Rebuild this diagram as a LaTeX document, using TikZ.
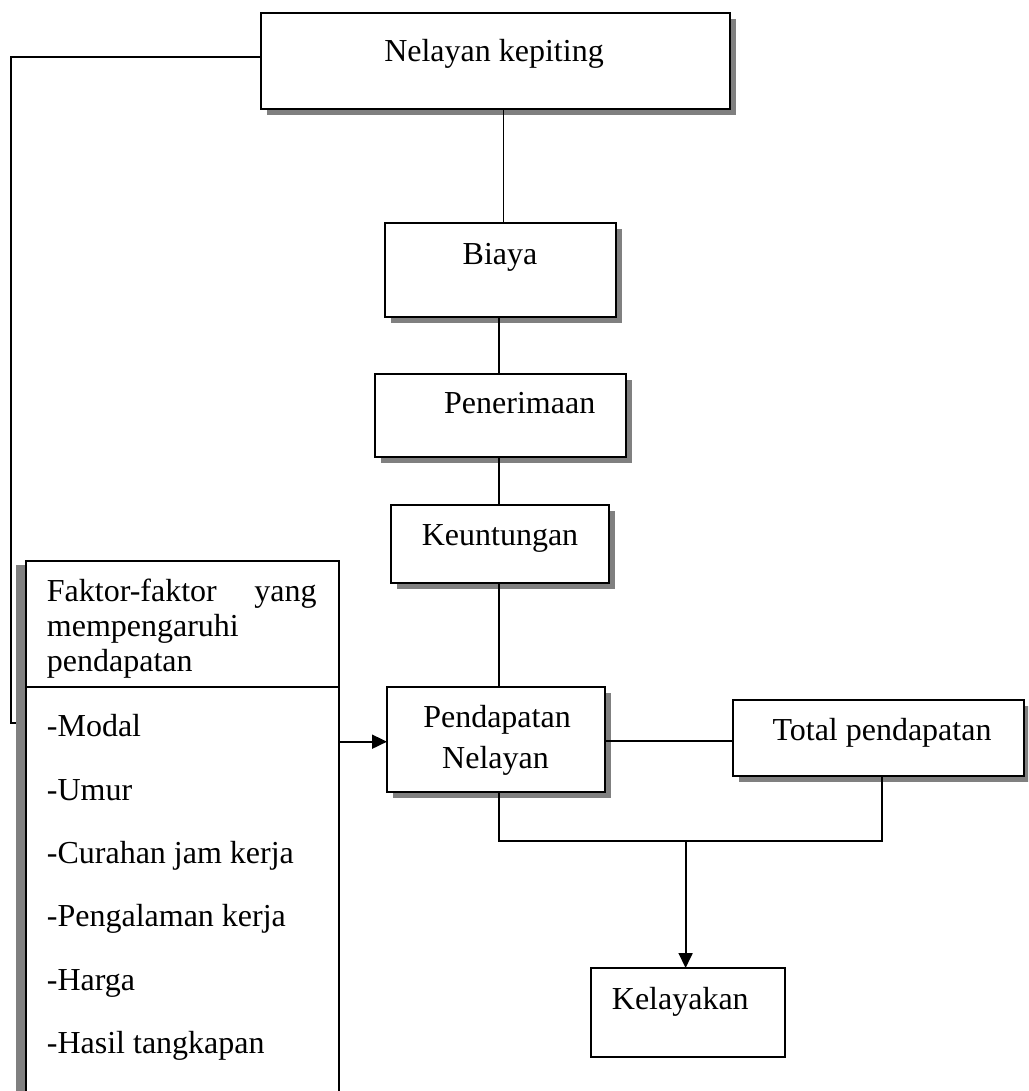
\documentclass[tikz,border=0pt]{standalone}
\usepackage{fontspec}
\setmainfont{Liberation Serif}
\usetikzlibrary{shadows,arrows.meta}
\begin{document}
\begin{tikzpicture}[x=1pt,y=-1pt,
  box/.style={draw, line width=1.8pt, fill=white, inner sep=0pt, outer sep=0pt},
  shbox/.style={box, drop shadow={shadow xshift=6pt, shadow yshift=-6pt, fill=black!50, opacity=1}},
  lbl/.style={inner sep=0pt, anchor=base, font=\fontsize{32}{38}\selectfont},
  lblw/.style={lbl, anchor=base west},
  conn/.style={line width=1.8pt},
  arr/.style={conn, -{Triangle[length=15pt,width=14pt]}}
]
\useasboundingbox (0,0) rectangle (1028,1091);
\clip (0,0) rectangle (1028,1091);

% boxes
\node[shbox, minimum width=469pt, minimum height=96pt] (nk) at (495.5,61) {};
\node[shbox, minimum width=231pt, minimum height=94pt] (biaya) at (500.5,270) {};
\node[shbox, minimum width=251pt, minimum height=83pt] (pen) at (500.5,415.5) {};
\node[shbox, minimum width=218pt, minimum height=78pt] (keu) at (500,544) {};
\node[shbox, minimum width=218pt, minimum height=105pt] (pn) at (496,739.5) {};
\node[shbox, minimum width=291pt, minimum height=76pt] (tp) at (878.5,738) {};
\node[box, minimum width=194pt, minimum height=89pt] (kel) at (688,1012.5) {};

% faktor box with left shadow
\node[fill=black!50, inner sep=0pt, minimum width=10pt, minimum height=560pt] (fsh) at (21,845) {};
\node[box, minimum width=313pt, minimum height=570pt] (fak) at (182.5,846) {};
\coordinate (dvl) at (26,686.7);
\draw[conn] (dvl) -- (dvl -| fak.east);

% texts
\node[lbl] (t1) at (494,62) {Nelayan kepiting};
\node[lbl] (t2) at (500,264) {Biaya};
\node[lblw] (t3) at (444,413) {Penerimaan};
\node[lbl] (t4) at (500,545) {Keuntungan};
\node[lbl] (t5) at (497,727) {Pendapatan};
\node[lbl] (t6) at (495.5,768) {Nelayan};
\node[lbl] (t7) at (882,740) {Total pendapatan};
\node[lblw] (t8) at (611.7,1009) {Kelayakan};

\node[lblw] (f1) at (46.7,601.7) {Faktor-faktor};
\node[lbl, anchor=base east] (f2) at (316.7,601.7) {yang};
\node[lblw] (f3) at (46.7,636.7) {mempengaruhi};
\node[lblw] (f4) at (46.7,671.7) {pendapatan};

\node[lblw] (i1) at (46.7,736.7) {-Modal};
\node[lblw] (i2) at (46.7,800) {-Umur};
\node[lblw] (i3) at (46.7,863.3) {-Curahan jam kerja};
\node[lblw] (i4) at (46.7,926.7) {-Pengalaman kerja};
\node[lblw] (i5) at (46.7,990) {-Harga};
\node[lblw] (i6) at (46.7,1053.3) {-Hasil tangkapan};

% connectors
\coordinate (lc) at (11,723);
\draw[conn] ([yshift=4pt]nk.west) -| (lc) -- (lc -| fsh.west);
\draw[conn] (nk.south -| 503.5,0) -- (biaya.north -| 503.5,0);
\draw[conn] (biaya.south -| 499,0) -- (pen.north -| 499,0);
\draw[conn] (pen.south -| 499,0) -- (keu.north -| 499,0);
\draw[conn] (keu.south -| 499,0) -- (pn.north -| 499,0);
\draw[conn] ([yshift=-1.5pt]pn.east) -- ([yshift=-1.5pt]pn.east -| tp.west);
\draw[arr] (fak.east |- 0,741.7) -- (pn.west |- 0,741.7);
\coordinate (jn) at (685.6,841);
\draw[conn] (pn.south -| 499,0) |- (jn) -| (tp.south -| 882,0);
\draw[arr] (jn) -- (jn |- kel.north);
\end{tikzpicture}
\end{document}
